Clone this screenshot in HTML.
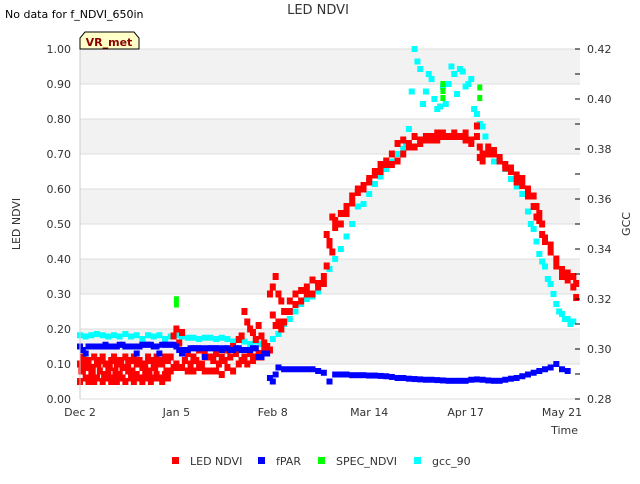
<!DOCTYPE html>
<html><head><meta charset="utf-8"><style>
body{margin:0;background:#fff;width:640px;height:480px;overflow:hidden;font-family:"DejaVu Sans","Liberation Sans",sans-serif}
svg text{font-family:"DejaVu Sans","Liberation Sans",sans-serif}
</style></head><body>
<svg id="chart" width="640" height="480" xmlns="http://www.w3.org/2000/svg">
<text x="5" y="18" font-size="11" fill="#000">No data for f_NDVI_650in</text>
<text x="318" y="14" font-size="13" fill="#333" text-anchor="middle">LED NDVI</text>
<g id="grid"></g>
<g id="marks"></g>
<g id="axes"></g>
<path d="M80,49 L80,38 L85,32 L134,32 L139,38 L139,49 Z" fill="#ffffc8" stroke="#000" stroke-width="1"/>
<text x="109" y="46" font-size="11" font-weight="bold" fill="#8b0000" text-anchor="middle">VR_met</text>
<text transform="translate(20,224) rotate(-90)" font-size="11" text-anchor="middle" fill="#333">LED NDVI</text>
<text transform="translate(630,224) rotate(-90)" font-size="11" text-anchor="middle" fill="#333">GCC</text>
<text x="578" y="434" font-size="11" text-anchor="end" fill="#333">Time</text>
<g>
<rect x="172" y="457" width="7" height="7" fill="#f00"/>
<text x="190" y="465" font-size="11" fill="#333">LED NDVI</text>
<rect x="258" y="457" width="7" height="7" fill="#00f"/>
<text x="276" y="465" font-size="11" fill="#333">fPAR</text>
<rect x="318" y="457" width="7" height="7" fill="#0f0"/>
<text x="336" y="465" font-size="11" fill="#333">SPEC_NDVI</text>
<rect x="414" y="457" width="7" height="7" fill="#0ff"/>
<text x="432" y="465" font-size="11" fill="#333">gcc_90</text>
</g>
</svg>
<script>
const xTickLabels=["Dec 2","Jan 5","Feb 8","Mar 14","Apr 17","May 21"];
const xTickDays=[0,34,68,102,136,170];
const yTicks=[0,0.1,0.2,0.3,0.4,0.5,0.6,0.7,0.8,0.9,1.0];
const y2Ticks=[0.28,0.30,0.32,0.34,0.36,0.38,0.40,0.42];
const ndviDays=[0,1,2,3,4,5,6,7,8,9,10,11,12,13,14,15,16,17,18,19,20,21,22,23,24,25,26,27,28,29,30,31,32,33,34,35,36,38,40,42,44,46,48,50,52,54,56,57,58,59,60,61,62,63,64,65,66,67,68,69,70,71,72,74,76,78,80,82,84,86,87,88,89,90,92,94,96,98,100,102,104,106,108,110,112,114,116,118,120,122,124,126,128,130,132,134,136,138,140,141,142,144,146,148,150,152,154,156,158,160,161,162,163,164,166,168,170,172,174,175];
const ndviLow=[0.05,0.08,0.06,0.05,0.07,0.05,0.06,0.08,0.05,0.06,0.07,0.05,0.06,0.05,0.07,0.06,0.05,0.08,0.06,0.05,0.07,0.06,0.05,0.07,0.06,0.05,0.06,0.07,0.06,0.05,0.07,0.06,0.08,0.09,0.10,0.09,0.09,0.08,0.08,0.09,0.08,0.08,0.08,0.07,0.09,0.08,0.10,0.11,0.12,0.10,0.13,0.11,0.12,0.13,0.12,0.14,0.15,0.14,0.24,0.21,0.22,0.20,0.22,0.25,0.27,0.28,0.30,0.30,0.32,0.33,0.38,0.44,0.42,0.49,0.50,0.53,0.56,0.59,0.60,0.62,0.64,0.65,0.67,0.67,0.68,0.70,0.72,0.72,0.73,0.74,0.74,0.74,0.75,0.75,0.75,0.75,0.74,0.74,0.75,0.69,0.68,0.70,0.71,0.68,0.66,0.65,0.62,0.61,0.58,0.55,0.52,0.51,0.47,0.45,0.42,0.38,0.35,0.34,0.32,0.29];
const ndviHigh=[0.10,0.12,0.10,0.11,0.09,0.12,0.10,0.11,0.12,0.10,0.09,0.11,0.12,0.10,0.11,0.09,0.12,0.10,0.11,0.12,0.10,0.11,0.09,0.10,0.12,0.11,0.10,0.12,0.11,0.10,0.12,0.11,0.12,0.18,0.20,0.16,0.19,0.13,0.12,0.14,0.13,0.12,0.13,0.12,0.14,0.15,0.17,0.18,0.25,0.22,0.20,0.19,0.17,0.21,0.18,0.16,0.15,0.30,0.32,0.35,0.30,0.28,0.25,0.28,0.30,0.31,0.32,0.34,0.33,0.35,0.47,0.45,0.52,0.51,0.53,0.55,0.58,0.60,0.61,0.63,0.65,0.67,0.68,0.70,0.73,0.74,0.73,0.75,0.74,0.75,0.75,0.76,0.76,0.75,0.76,0.75,0.76,0.73,0.78,0.72,0.70,0.72,0.70,0.69,0.67,0.66,0.64,0.63,0.60,0.58,0.55,0.53,0.50,0.46,0.44,0.40,0.37,0.36,0.35,0.33];
const ndviMidDays=[0.5,2.5,4.5,6.5,8.5,10.5,12.5,14.5,16.5,18.5,20.5,22.5,24.5,26.5,28.5,30.5,37,39,41,43,45,47,49,51,53,55];
const ndviMid=[0.08,0.09,0.08,0.10,0.07,0.09,0.08,0.10,0.09,0.08,0.10,0.09,0.08,0.09,0.10,0.08,0.11,0.10,0.11,0.10,0.12,0.11,0.10,0.11,0.12,0.13];
const fparDays=[0,1,2,3,4,5,6,7,8,9,10,11,12,13,14,15,16,17,18,19,20,21,22,23,24,25,26,27,28,29,30,31,32,33,34,35,36,37,38,39,40,41,42,43,44,45,46,47,48,49,50,51,52,53,54,55,56,57,58,59,60,61,62,63,64,65,66,67,68,69,70,
72,74,76,78,80,82,84,86,88,90,
92,94,96,98,100,102,104,106,108,110,
112,114,116,118,120,122,124,126,128,130,
132,134,136,138,140,142,144,146,148,150,
152,154,156,158,160,162,164,166,168,170,
172];
const fparVals=[0.15,0.14,0.13,0.15,0.15,0.15,0.15,0.15,0.15,0.155,
0.15,0.15,0.15,0.15,0.155,0.155,0.15,0.15,0.15,0.15,
0.13,0.15,0.155,0.155,0.155,0.155,0.15,0.15,0.13,0.155,
0.155,0.155,0.155,0.155,0.15,0.14,0.13,0.14,0.14,0.145,
0.145,0.145,0.145,0.145,0.12,0.145,0.145,0.145,0.145,0.145,
0.14,0.145,0.145,0.14,0.14,0.145,0.145,0.14,0.14,0.14,
0.14,0.145,0.145,0.12,0.12,0.13,0.13,0.06,0.05,0.07,
0.09,
0.085,0.085,0.085,0.085,0.085,0.085,0.08,0.075,0.05,0.07,
0.07,0.07,0.068,0.068,0.068,0.067,0.067,0.066,0.065,0.063,
0.06,0.06,0.058,0.057,0.056,0.055,0.055,0.054,0.053,0.052,
0.052,0.052,0.052,0.055,0.056,0.055,0.053,0.052,0.052,0.055,
0.058,0.06,0.065,0.07,0.075,0.08,0.085,0.09,0.10,0.085,
0.08];
const specDays=[34,34,128,128,128,141,141];
const specVals=[0.27,0.285,0.86,0.88,0.90,0.89,0.86];
const gccDays=[0,2,4,6,8,10,12,14,16,18,20,22,24,26,28,30,32,34,36,38,40,42,44,46,48,50,52,54,56,58,60,62,64,66,68,70,72,74,76,78,80,82,84,86,88,90,92,94,96,98,100,102,104,106,108,110,112,114,115,116,117,118,119,120,121,122,123,124,125,126,127,128,129,130,131,132,133,134,135,136,137,138,139,140,141,142,143,144,145,146,148,150,152,154,156,158,159,160,161,162,163,164,165,166,167,168,169,170,171,172,173,174];
const gccVals=[0.3055,0.305,0.3055,0.306,0.3055,0.305,0.3055,0.305,0.306,0.305,0.3055,0.304,0.3055,0.305,0.3055,0.304,0.305,0.3055,0.305,0.3045,0.3045,0.304,0.3045,0.3045,0.304,0.3045,0.304,0.303,0.304,0.303,0.302,0.303,0.302,0.301,0.304,0.306,0.310,0.312,0.315,0.318,0.320,0.321,0.323,0.326,0.332,0.336,0.340,0.345,0.350,0.357,0.358,0.362,0.366,0.369,0.372,0.375,0.378,0.380,0.382,0.388,0.403,0.420,0.415,0.412,0.398,0.403,0.410,0.408,0.400,0.396,0.397,0.405,0.398,0.406,0.413,0.410,0.402,0.412,0.411,0.405,0.406,0.408,0.396,0.394,0.390,0.389,0.385,0.380,0.378,0.375,0.376,0.372,0.368,0.365,0.362,0.355,0.35,0.348,0.343,0.338,0.335,0.333,0.328,0.326,0.322,0.318,0.315,0.314,0.312,0.312,0.310,0.311];
const NS="http://www.w3.org/2000/svg";
const X0=80,X1=580,Y0=399,Y1=49,PXD=(562-80)/170;
function xs(d){return X0+d*PXD;}
function ys(v){return Y0-(v/1.0)*(Y0-Y1);}
function ys2(v){return Y0-(v-0.28)/(0.14)*(Y0-Y1);}
function mk(tag,attrs,parent){const e=document.createElementNS(NS,tag);for(const k in attrs)e.setAttribute(k,attrs[k]);parent.appendChild(e);return e;}
const grid=document.getElementById('grid'),marks=document.getElementById('marks'),axes=document.getElementById('axes');
for(let i=0;i<yTicks.length-1;i++){
  if(i%2===1){const b=mk('rect',{x:X0,y:ys(yTicks[i+1]),width:X1-X0,height:ys(yTicks[i])-ys(yTicks[i+1]),fill:'#f2f2f2'},grid);
  
  }
}
yTicks.forEach(v=>{
  const l=mk('line',{x1:X0,x2:X1,y1:ys(v),y2:ys(v),stroke:'#ddd','stroke-width':1},grid);
  
  
  const t=mk('text',{x:71,y:ys(v)+4,'font-size':11,'text-anchor':'end',fill:'#333'},axes);
  t.textContent=v.toFixed(2);
  
  
});
y2Ticks.forEach(v=>{
  const t=mk('text',{x:587,y:ys2(v)+4,'font-size':11,fill:'#333'},axes);
  t.textContent=v.toFixed(2);
  
  
  mk('line',{x1:X1-5,x2:X1,y1:ys2(v),y2:ys2(v),stroke:'#000'},axes);
  if(v<0.42){const m=ys2(v+0.01);mk('line',{x1:X1-5,x2:X1,y1:m,y2:m,stroke:'#000'},axes);}
});
mk('line',{x1:X0,x2:X0,y1:Y1,y2:Y0,stroke:'#ccc'},axes);
xTickDays.forEach((d,i)=>{
  const t=mk('text',{x:xs(d),y:416,'font-size':11,'text-anchor':'middle',fill:'#333'},axes);
  t.textContent=xTickLabels[i];
  
  
});
function pts(days,vals,scale,color,name,w,h){
  const n=Math.min(days.length,vals.length);
  for(let i=0;i<n;i++){
    const r=mk('rect',{x:xs(days[i])-w/2,y:scale(vals[i])-h/2,width:w,height:h,fill:color},marks);
    
    
  }
}
pts(gccDays,gccVals,ys2,'#00ffff','gcc-point',6,6);
pts(ndviDays,ndviLow,ys,'#ff0000','led-ndvi-point',6,7);
pts(ndviDays,ndviHigh,ys,'#ff0000','led-ndvi-point',6,7);
pts(ndviMidDays,ndviMid,ys,'#ff0000','led-ndvi-point',6,7);
pts(fparDays,fparVals,ys,'#0000ff','fpar-point',6,6);
pts(specDays,specVals,ys,'#00ff00','spec-ndvi-point',5,6);
</script>
</body></html>
